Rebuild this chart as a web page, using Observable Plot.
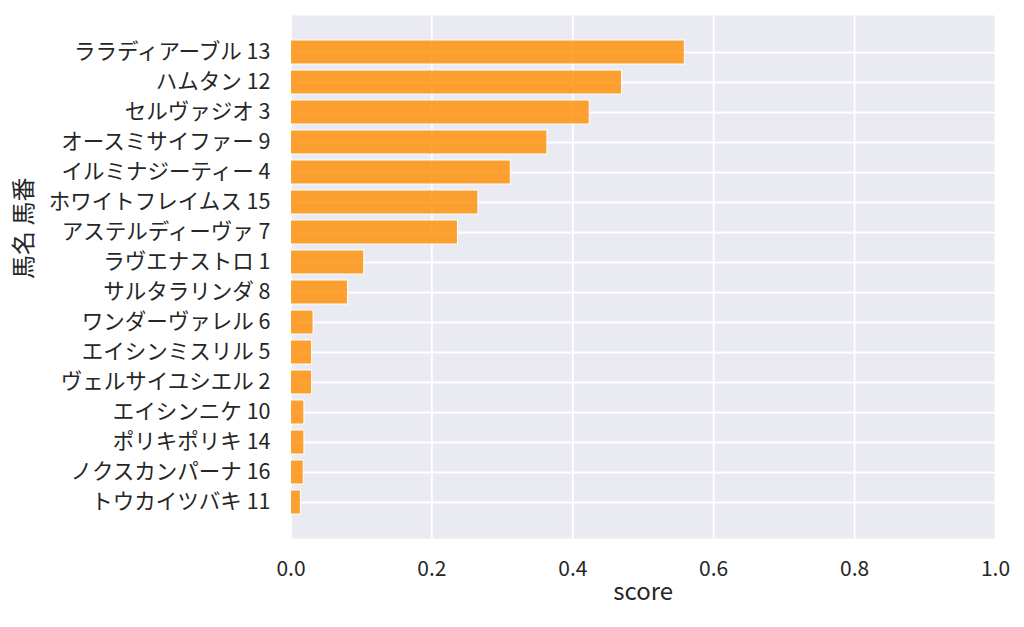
<!DOCTYPE html>
<html><head><meta charset="utf-8">
<script src="https://cdn.jsdelivr.net/npm/d3@7"></script>
<script src="https://cdn.jsdelivr.net/npm/@observablehq/plot@0.6"></script>
<style>body{margin:0;background:#fff}</style>
</head><body><div id="chart"></div>
<script>
const horses = [
  "ララディアーブル 13", "ハムタン 12", "セルヴァジオ 3", "オースミサイファー 9",
  "イルミナジーティー 4", "ホワイトフレイムス 15", "アステルディーヴァ 7", "ラヴエナストロ 1",
  "サルタラリンダ 8", "ワンダーヴァレル 6", "エイシンミスリル 5", "ヴェルサイユシエル 2",
  "エイシンニケ 10", "ポリキポリキ 14", "ノクスカンパーナ 16", "トウカイツバキ 11"
];
const scores = [
  0.559, 0.470, 0.424, 0.364,
  0.312, 0.266, 0.237, 0.104,
  0.081, 0.032, 0.030, 0.030,
  0.019, 0.019, 0.018, 0.014
];
const xTicks = [0, 0.2, 0.4, 0.6, 0.8, 1.0];
const xLabel = "score";
const yLabel = "馬名 馬番";

const data = horses.map((h, i) => ({horse: h, score: scores[i]}));

const chart = Plot.plot({
  width: 1024, height: 627,
  marginLeft: 290.5, marginRight: 29, marginTop: 15, marginBottom: 89,
  style: {fontFamily: "'Noto Sans CJK JP', sans-serif", fontSize: "21px", color: "#262626", background: "#fff"},
  x: {domain: [0, 1], axis: null},
  y: {domain: horses, paddingInner: 0.2, paddingOuter: 0.79, axis: null},
  marks: [
    Plot.frame({fill: "#EAEAF2", stroke: null}),
    Plot.gridX(xTicks, {stroke: "#fff", strokeOpacity: 1, strokeWidth: 1.8}),
    Plot.gridY({stroke: "#fff", strokeOpacity: 1, strokeWidth: 1.8}),
    Plot.barX(data, {x: "score", y: "horse", fill: "#ff8c00", fillOpacity: 0.8, stroke: "#fff", strokeWidth: 1}),
    Plot.axisX(xTicks, {tickSize: 0, tickPadding: 23, tickFormat: d3.format(".1f"), fontSize: 21, label: null}),
    Plot.axisY({tickSize: 0, tickPadding: 20.5, fontSize: 21.5, label: null}),
    Plot.text([xLabel], {text: d => d, frameAnchor: "bottom", dy: 61, fontSize: 24, fill: "#262626"}),
    Plot.text([yLabel], {text: d => d, frameAnchor: "left", dx: -267, dy: 2, rotate: -90, fontSize: 24, fill: "#262626"})
  ]
});
document.getElementById("chart").appendChild(chart);
</script>
</body></html>
